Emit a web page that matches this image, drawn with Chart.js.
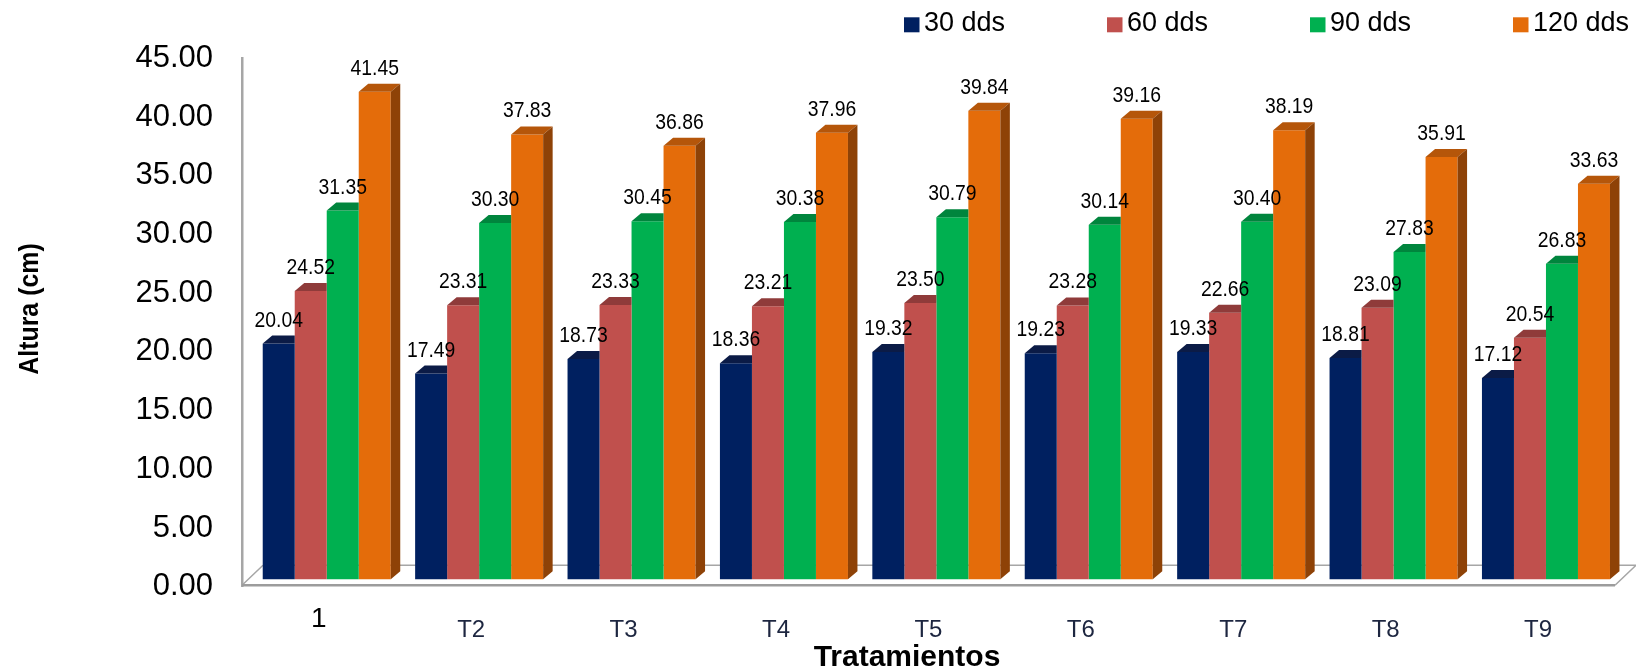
<!DOCTYPE html>
<html>
<head>
<meta charset="utf-8">
<title>Altura por tratamiento</title>
<script src="https://cdn.jsdelivr.net/npm/chart.js@4.4.1/dist/chart.umd.min.js"></script>
<style>
  html, body { margin: 0; padding: 0; background: #ffffff; }
  #wrap { width: 1636px; height: 671px; }
</style>
</head>
<body>
<div id="wrap"><canvas id="chart" width="1636" height="671"></canvas></div>
<script>
// Treatments and plant height (cm) at each sampling date
const categories = ['1', 'T2', 'T3', 'T4', 'T5', 'T6', 'T7', 'T8', 'T9'];
const seriesNames = ['30 dds', '60 dds', '90 dds', '120 dds'];
const dds30  = [20.04, 17.49, 18.73, 18.36, 19.32, 19.23, 19.33, 18.81, 17.12];
const dds60  = [24.52, 23.31, 23.33, 23.21, 23.50, 23.28, 22.66, 23.09, 20.54];
const dds90  = [31.35, 30.30, 30.45, 30.38, 30.79, 30.14, 30.40, 27.83, 26.83];
const dds120 = [41.45, 37.83, 36.86, 37.96, 39.84, 39.16, 38.19, 35.91, 33.63];
const yTickValues = [0, 5, 10, 15, 20, 25, 30, 35, 40, 45];

// Colours: front face, top face, side face
const frontColors = ['#002060', '#c0504d', '#00b050', '#e46c0a'];
const topColors   = ['#0b1b46', '#8f3b3a', '#00853d', '#b5560a'];
const sideColors  = ['#001640', '#7a3130', '#006b30', '#8e4207'];

const FONT = "'Liberation Sans', Arial, sans-serif";
const DEPTH_X = 9.5;   // bar depth, horizontal
const DEPTH_Y = 8;     // bar depth, vertical
const LABEL_SHIFT = -0.052; // category labels sit on the front plane

const seriesValues = [dds30, dds60, dds90, dds120];

// Floor slab under the bars
const floor3d = {
  id: 'floor3d',
  beforeDatasetsDraw(chart) {
    const { ctx, chartArea: a, scales } = chart;
    const y0 = scales.y.getPixelForValue(0);
    const fy = a.bottom - 1.5;
    const by = y0 - 14;
    const dx = 21;
    ctx.save();
    ctx.strokeStyle = '#a6a6a6';
    ctx.lineWidth = 1.5;
    ctx.beginPath();
    ctx.moveTo(a.left + dx, by); ctx.lineTo(a.right + dx, by);
    ctx.moveTo(a.left, fy);      ctx.lineTo(a.left + dx, by);
    ctx.moveTo(a.right, fy);     ctx.lineTo(a.right + dx, by);
    ctx.stroke();
    ctx.lineWidth = 2.5;
    ctx.strokeStyle = '#9c9c9c';
    ctx.beginPath();
    ctx.moveTo(a.left, fy); ctx.lineTo(a.right, fy);
    ctx.stroke();
    ctx.restore();
  }
};

// Top and side faces of the bars plus value labels
const bar3d = {
  id: 'bar3d',
  afterDatasetsDraw(chart) {
    const { ctx } = chart;
    const n = chart.data.datasets.length;
    ctx.save();
    for (let di = 0; di < n; di++) {
      const meta = chart.getDatasetMeta(di);
      const last = di === n - 1;
      meta.data.forEach(bar => {
        const { x, y, base, width } = bar.getProps(['x', 'y', 'base', 'width'], true);
        const l = x - width / 2, r = x + width / 2;
        ctx.save();
        if (!last) {
          // the next (taller) bar hides the back part of this top face
          ctx.beginPath();
          ctx.rect(l - 2, 0, width + 2, chart.height);
          ctx.clip();
        }
        ctx.fillStyle = topColors[di];
        ctx.beginPath();
        ctx.moveTo(l, y);
        ctx.lineTo(l + DEPTH_X, y - DEPTH_Y);
        ctx.lineTo(r + DEPTH_X, y - DEPTH_Y);
        ctx.lineTo(r, y);
        ctx.closePath();
        ctx.fill();
        if (last) {
          ctx.fillStyle = sideColors[di];
          ctx.beginPath();
          ctx.moveTo(r, y);
          ctx.lineTo(r + DEPTH_X, y - DEPTH_Y);
          ctx.lineTo(r + DEPTH_X, base - DEPTH_Y);
          ctx.lineTo(r, base);
          ctx.closePath();
          ctx.fill();
        }
        ctx.restore();
      });
    }
    // value labels
    ctx.fillStyle = '#000000';
    ctx.font = `21.5px ${FONT}`;
    ctx.textAlign = 'center';
    ctx.textBaseline = 'middle';
    for (let di = 0; di < n; di++) {
      const meta = chart.getDatasetMeta(di);
      meta.data.forEach((bar, i) => {
        const { x, y } = bar.getProps(['x', 'y'], true);
        const text = seriesValues[di][i].toFixed(2);
        ctx.save();
        ctx.translate(x, y - 23);
        ctx.scale(0.9, 1);
        ctx.fillText(text, 0, 0);
        ctx.restore();
      });
    }
    ctx.restore();
  }
};

// Legend row and axis titles
const decorations = {
  id: 'decorations',
  afterDraw(chart) {
    const { ctx } = chart;
    ctx.save();
    ctx.textBaseline = 'middle';
    ctx.textAlign = 'left';
    ctx.font = `27px ${FONT}`;
    chart.data.datasets.forEach((ds, i) => {
      const bx = 904 + i * 203;
      ctx.fillStyle = ds.backgroundColor;
      ctx.fillRect(bx, 17.3, 15.5, 15);
      ctx.fillStyle = '#000000';
      ctx.fillText(ds.label, bx + 20, 23.5);
    });

    ctx.fillStyle = '#000000';
    ctx.textAlign = 'center';
    ctx.font = `bold 30px ${FONT}`;
    ctx.fillText('Tratamientos', 907, 658);

    ctx.font = `bold 28px ${FONT}`;
    ctx.save();
    ctx.translate(30, 309);
    ctx.rotate(-Math.PI / 2);
    ctx.scale(0.89, 1);
    ctx.fillText('Altura (cm)', 0, 0);
    ctx.restore();
    ctx.restore();
  }
};

const datasets = seriesNames.map((name, k) => ({
  label: name,
  data: seriesValues[k].map((v, i) => ({ x: i, y: v })),
  backgroundColor: frontColors[k],
  borderWidth: 0,
  categoryPercentage: 0.84,
  barPercentage: 1.0,
  xAxisID: 'x',
  yAxisID: 'y'
}));

new Chart(document.getElementById('chart'), {
  type: 'bar',
  data: { datasets },
  options: {
    responsive: false,
    animation: false,
    devicePixelRatio: 1,
    layout: { padding: { left: 0, right: 21, top: 58.3, bottom: 0 } },
    plugins: {
      legend: { display: false },
      tooltip: { enabled: false }
    },
    scales: {
      x: {
        type: 'linear',
        position: 'bottom',
        min: -0.556,
        max: 8.453,
        offset: false,
        grid: { display: false, drawTicks: false },
        border: { display: false },
        afterBuildTicks: (scale) => {
          scale.ticks = categories.map((c, i) => ({ value: i + LABEL_SHIFT }));
        },
        afterFit: (scale) => { scale.height = 84.3; },
        ticks: {
          autoSkip: false,
          maxRotation: 0,
          padding: 0,
          callback: (value, index) => categories[index],
          color: (c) => c.index === 0 ? '#000000' : '#1d2640',
          font: (c) => c.index === 0
            ? { family: FONT, size: 28, lineHeight: '66px' }
            : { family: FONT, size: 24, lineHeight: '88px' }
        }
      },
      y: {
        type: 'linear',
        display: false,
        min: -0.629,
        max: 44.30
      },
      yL: {
        type: 'linear',
        axis: 'y',
        position: 'left',
        min: 0,
        max: 45,
        grid: { display: false, drawTicks: false },
        border: { display: true, color: '#a6a6a6', width: 2.5 },
        afterBuildTicks: (scale) => {
          scale.ticks = yTickValues.map(v => ({ value: v }));
        },
        afterFit: (scale) => { scale.width = 242; },
        ticks: {
          padding: 29,
          color: '#000000',
          font: { family: FONT, size: 31 },
          callback: (value) => Number(value).toFixed(2)
        }
      }
    }
  },
  plugins: [floor3d, bar3d, decorations]
});
</script>
</body>
</html>
